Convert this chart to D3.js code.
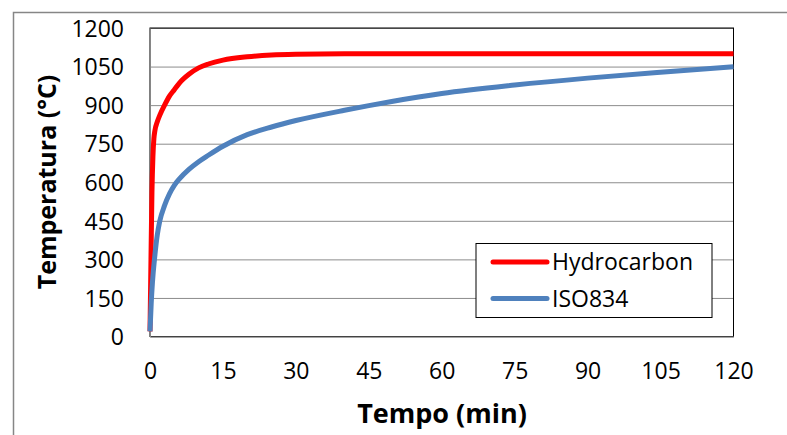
<!DOCTYPE html>
<html>
<head>
<meta charset="utf-8">
<script src="https://cdn.jsdelivr.net/npm/d3@7"></script>
<style>
  body { margin: 0; background: #fff; }
  text { font-family: "Open Sans", "Liberation Sans", sans-serif; fill: #000; }
</style>
</head>
<body>
<div id="chart"></div>
<script>
// series: time (min) and temperature (°C)
var hydroTime = [0, 0.2, 0.4, 0.6, 0.8, 1, 1.5, 2, 3, 4, 5, 6, 8, 10, 12, 15, 20, 25, 30, 40, 120];
var hydroTemp = [20, 300, 560, 700, 770, 800, 835, 860, 900, 935, 960, 985, 1020, 1045, 1060, 1075, 1088, 1095, 1098, 1100, 1100];

var isoTime = [0, 0.25, 0.5, 1, 1.5, 2, 3, 4, 5, 6, 8, 10, 12, 15, 20, 25, 30, 40, 45, 50, 60, 75, 90, 105, 120];
var isoTemp = [20, 130, 210, 315, 395, 448, 510, 555, 588, 612, 650, 680, 705, 740, 785, 815, 840, 880, 898, 915, 945, 978, 1005, 1028, 1049];

var xTicks = [0, 15, 30, 45, 60, 75, 90, 105, 120];
var yTicks = [0, 150, 300, 450, 600, 750, 900, 1050, 1200];

var seriesNames = ["Hydrocarbon", "ISO834"];
var seriesColors = ["#ff0000", "#4f81bd"];

//canvas size
var svgWidth = 787;
var svgHeight = 435;

// plot area
var margin = { top: 28, left: 150 };
var width = 733.5 - margin.left;
var height = 336.5 - margin.top;

var svg = d3.select("#chart")
  .append("svg")
  .attr("width", svgWidth)
  .attr("height", svgHeight);

// outer chart frame (cut off at right and bottom)
svg.append("rect")
  .attr("x", 13.5)
  .attr("y", 12.5)
  .attr("width", 820)
  .attr("height", 460)
  .attr("fill", "none")
  .attr("stroke", "#868686")
  .attr("stroke-width", 1.5);

var chartGroup = svg.append("g")
  .attr("transform", `translate(${margin.left}, ${margin.top})`);

var xScale = d3.scaleLinear().domain([0, 120]).range([0, width]);
var yScale = d3.scaleLinear().domain([0, 1200]).range([height, 0]);

// gridlines
chartGroup.append("g")
  .call(d3.axisLeft(yScale).tickValues(yTicks).tickSize(-width).tickFormat(""))
  .call(g => g.select(".domain").remove())
  .selectAll("line")
  .attr("stroke", "#8c8c8c");

// plot border, top and right dark
chartGroup.append("rect")
  .attr("width", width)
  .attr("height", height)
  .attr("fill", "none")
  .attr("stroke", "#000")
  .attr("stroke-width", 1);

// y axis
var leftAxis = chartGroup.append("g")
  .call(d3.axisLeft(yScale).tickValues(yTicks).tickSize(0).tickPadding(26).tickFormat(d3.format("d")));
leftAxis.select(".domain").attr("stroke", "#868686");
leftAxis.selectAll("text")
  .style("font-size", "23px")
  .attr("dy", "0.36em");

// x axis
var bottomAxis = chartGroup.append("g")
  .attr("transform", `translate(0, ${height})`)
  .call(d3.axisBottom(xScale).tickValues(xTicks).tickSize(0).tickPadding(26).tickFormat(d3.format("d")));
bottomAxis.select(".domain").attr("stroke", "#868686");
bottomAxis.selectAll("text")
  .style("font-size", "23px")
  .attr("dy", "0.71em");

// lines
var line = d3.line()
  .x(d => xScale(d[0]))
  .y(d => yScale(d[1]))
  .curve(d3.curveMonotoneX);

var seriesData = [
  d3.zip(hydroTime, hydroTemp),
  d3.zip(isoTime, isoTemp)
];

chartGroup.selectAll(".series")
  .data(seriesData)
  .enter()
  .append("path")
  .attr("class", "series")
  .attr("d", line)
  .attr("fill", "none")
  .attr("stroke", (d, i) => seriesColors[i])
  .attr("stroke-width", 5)
  .attr("stroke-linejoin", "round");

// legend
var legend = svg.append("g")
  .attr("transform", "translate(476, 243.5)");

legend.append("rect")
  .attr("width", 236)
  .attr("height", 74)
  .attr("fill", "#fff")
  .attr("stroke", "#000")
  .attr("stroke-width", 1);

var legendItems = legend.selectAll(".item")
  .data(seriesNames)
  .enter()
  .append("g")
  .attr("class", "item")
  .attr("transform", (d, i) => `translate(0, ${18.5 + i * 36.5})`);

legendItems.append("line")
  .attr("x1", 17)
  .attr("x2", 71)
  .attr("stroke", (d, i) => seriesColors[i])
  .attr("stroke-width", 5)
  .attr("stroke-linecap", "round");

legendItems.append("text")
  .attr("x", 76)
  .attr("dy", "0.36em")
  .style("font-size", "23px")
  .text(d => d);

// axis titles
svg.append("text")
  .attr("x", 442)
  .attr("y", 423)
  .attr("text-anchor", "middle")
  .style("font-size", "27px")
  .style("font-weight", "bold")
  .text("Tempo (min)");

svg.append("text")
  .attr("transform", "translate(56, 182) rotate(-90)")
  .attr("text-anchor", "middle")
  .style("font-size", "25px")
  .style("font-weight", "bold")
  .text("Temperatura (°C)");
</script>
</body>
</html>
